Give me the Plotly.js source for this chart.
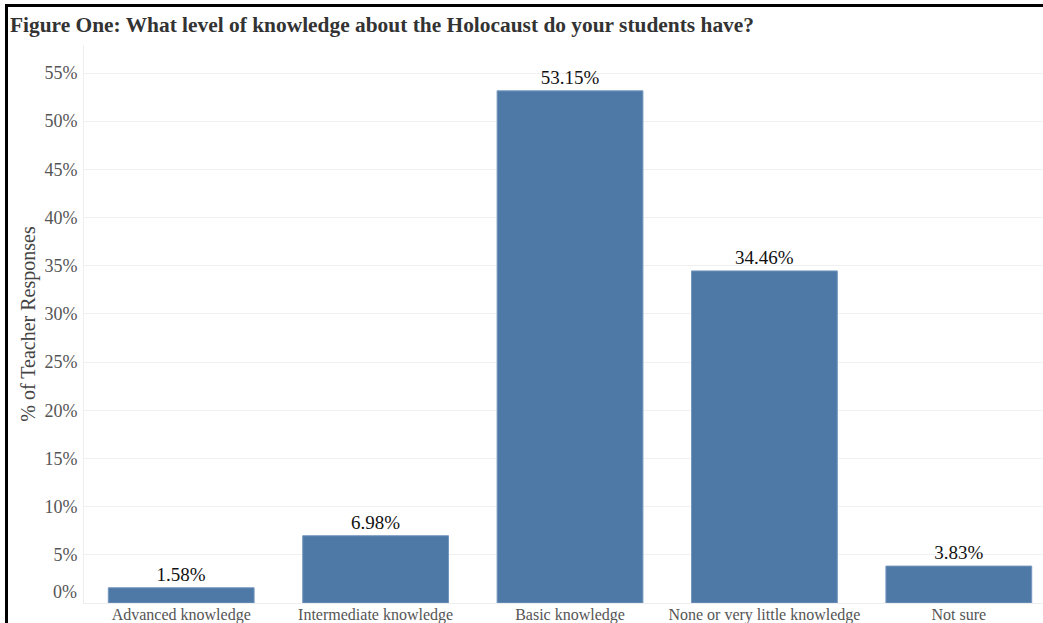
<!DOCTYPE html>
<html>
<head>
<meta charset="utf-8">
<script src="https://cdn.plot.ly/plotly-3.0.1.min.js"></script>
<style>
html,body{margin:0;padding:0;background:#fff;}
#chart{width:1043px;height:623px;}
</style>
</head>
<body>
<div id="chart"></div>
<script>
const categories = ["Advanced knowledge", "Intermediate knowledge", "Basic knowledge", "None or very little knowledge", "Not sure"];
const values = [1.58, 6.98, 53.15, 34.46, 3.83];
const tickVals = [5, 10, 15, 20, 25, 30, 35, 40, 45, 50, 55];
const tickText = tickVals.map(v => v + "%");

const serif = "Liberation Serif, Times New Roman, serif";

const trace = {
  type: "bar",
  x: categories,
  y: values,
  width: 0.75,
  marker: {color: "#4e79a7", line: {color: "#7597be", width: 1}},
  text: values.map(v => v.toFixed(2) + "%"),
  textposition: "outside",
  textfont: {family: serif, size: 19, color: "#111"},
  cliponaxis: false,
  hoverinfo: "x+y"
};

const W = 1043, H = 623, L = 84, R = 0, T = 45, B = 20;
const plotW = W - L - R;
const plotH = H - T - B;
const bdrX = (px) => (px - L) / plotW;
const bdrY = (py) => (H - B - py) / plotH;

const layout = {
  width: W, height: H,
  margin: {l: L, r: R, t: T, b: B},
  paper_bgcolor: "#fff",
  plot_bgcolor: "#fff",
  showlegend: false,
  title: {
    text: "<b>Figure One: What level of knowledge about the Holocaust do your students have?</b>",
    font: {family: serif, size: 21.4, color: "#333"},
    xref: "container", yref: "container",
    x: 10 / W, xanchor: "left",
    y: 1 - 25 / H, yanchor: "middle"
  },
  xaxis: {
    type: "category",
    range: [-0.5, (W - 2 - L) / 194 - 0.5],
    tickfont: {family: serif, size: 16, color: "#555"},
    showgrid: false,
    zeroline: false,
    showline: true, linecolor: "#eeeeee", linewidth: 1,
    ticks: "", ticklen: 0, ticklabelstandoff: -3
  },
  yaxis: {
    range: [0, plotH / ((H - B - 73) / 55)],
    tickvals: tickVals,
    ticktext: tickText,
    tickfont: {family: serif, size: 18, color: "#555"},
    showgrid: true, gridcolor: "#f0f0f0", gridwidth: 1,
    zeroline: false,
    showline: true, linecolor: "#eeeeee", linewidth: 1,
    ticks: "", ticklabelstandoff: 2,
    title: {
      text: "% of Teacher Responses",
      font: {family: serif, size: 20, color: "#444"},
      standoff: 3
    }
  },
  annotations: [
    {text: "0%", xref: "paper", yref: "y", x: 0, y: 0, xanchor: "right", yanchor: "middle",
     xshift: -5, yshift: 11, showarrow: false, font: {family: serif, size: 18, color: "#555"}}
  ],
  shapes: [
    {type: "line", xref: "paper", yref: "paper", x0: bdrX(6.5), x1: bdrX(6.5), y0: bdrY(630), y1: bdrY(4.5), line: {color: "#000", width: 3}},
    {type: "line", xref: "paper", yref: "paper", x0: bdrX(5), x1: bdrX(1050), y0: bdrY(5.5), y1: bdrY(5.5), line: {color: "#000", width: 3}}
  ]
};

Plotly.newPlot("chart", [trace], layout, {displayModeBar: false});
</script>
</body>
</html>
